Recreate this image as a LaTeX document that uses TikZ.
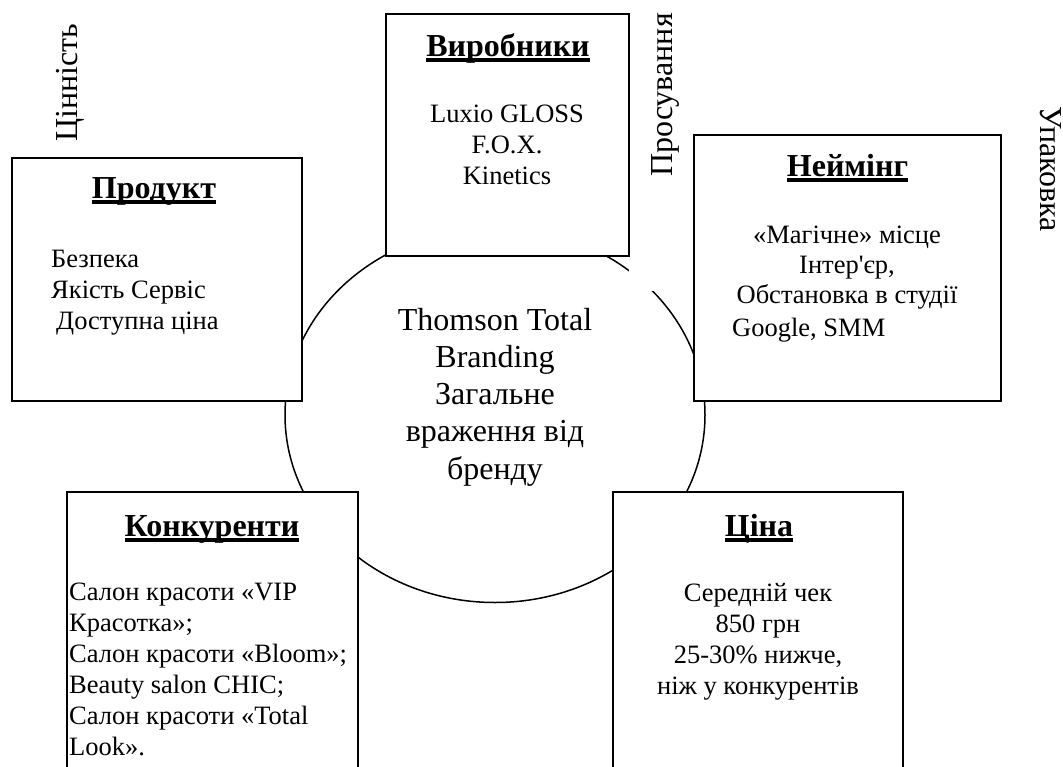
\documentclass[tikz,border=0pt]{standalone}
\usepackage{fontspec}
\usetikzlibrary{shapes.geometric}
\setmainfont{Liberation Serif}
\newfontfamily\plainf{Liberation Serif}
\newcommand\ulttl[1]{\setbox0=\hbox{#1}\copy0\kern-\wd0\raisebox{-5.8pt}{\rule{\wd0}{3.8pt}}}
\begin{document}
\begin{tikzpicture}[x=1pt,y=-1pt,
boxn/.style={draw=black,line width=1.5pt,fill=white},
ttl/.style={font=\fontsize{32}{32}\selectfont\bfseries,inner sep=0pt,anchor=base},
txt/.style={font=\fontsize{26.5}{31}\selectfont,inner sep=0pt,align=center,anchor=north},
txl/.style={font=\fontsize{26.5}{31}\selectfont,inner sep=0pt,align=left,anchor=north west},
txn/.style={font=\fontsize{26.5}{30}\selectfont,inner sep=0pt,align=center,anchor=north},
mid/.style={font=\fontsize{32}{37.2}\selectfont,inner sep=0pt,align=center,anchor=center},
side/.style={font=\fontsize{32}{32}\selectfont,inner sep=0pt,anchor=center}]
\useasboundingbox (0,0) rectangle (1063,766);
\fill[white] (0,0) rectangle (1063,766);
\clip (0,0) rectangle (1063,766);
\node[draw=black,line width=1.5pt,ellipse,minimum width=420pt,minimum height=375pt,inner sep=0pt] (circ) at (495,415) {};
\fill[white] (629,240) rectangle (690,291);
\draw[boxn] (386,14) rectangle (629,256);
\draw[boxn] (12,158) rectangle (302,401);
\draw[boxn] (694,135) rectangle (1001,401);
\draw[boxn] (67,492) rectangle (358,780);
\draw[boxn] (613,492) rectangle (903,780);
\node[ttl] (t1) at (508,56) {\ulttl{Виробники}};
\node[txt] (x1) at (507,105) {Luxio GLOSS\\F.O.X.\\Kinetics};
\node[ttl] (t2) at (154,198) {\ulttl{Продукт}};
\node[txl] (x2) at (51,250) {Безпека\\Якість Сервіс\\\hspace*{5pt}Доступна ціна};
\node[ttl] (t3) at (847.5,176) {\ulttl{Неймінг}};
\node[txn] (x3) at (847,226) {«Магічне» місце\\Інтер{\plainf'}єр,\\Обстановка в студії};
\node[txl] (x3b) at (732,318) {Google, SMM};
\node[ttl] (t4) at (212,536) {\ulttl{Конкуренти}};
\node[txl] (x4) at (69,583) {Салон красоти «VIP\\Красотка»;\\Салон красоти «Bloom»;\\Beauty salon CHIC;\\Салон красоти «Total\\Look».};
\node[ttl] (t5) at (759,536) {\ulttl{Ціна}};
\node[txt] (x5) at (758,583) {Середній чек\\850 грн\\25-30\% нижче,\\ніж у конкурентів};
\node[mid] (m) at (495,397) {Thomson Total\\Branding\\Загальне\\враження від\\бренду};
\node[side,rotate=90] (s1) at (70,83) {Цінність};
\node[side,rotate=90] (s2) at (665,95) {Просування};
\node[side,rotate=-90] (s3) at (1051,169) {Упаковка};
\end{tikzpicture}
\end{document}
